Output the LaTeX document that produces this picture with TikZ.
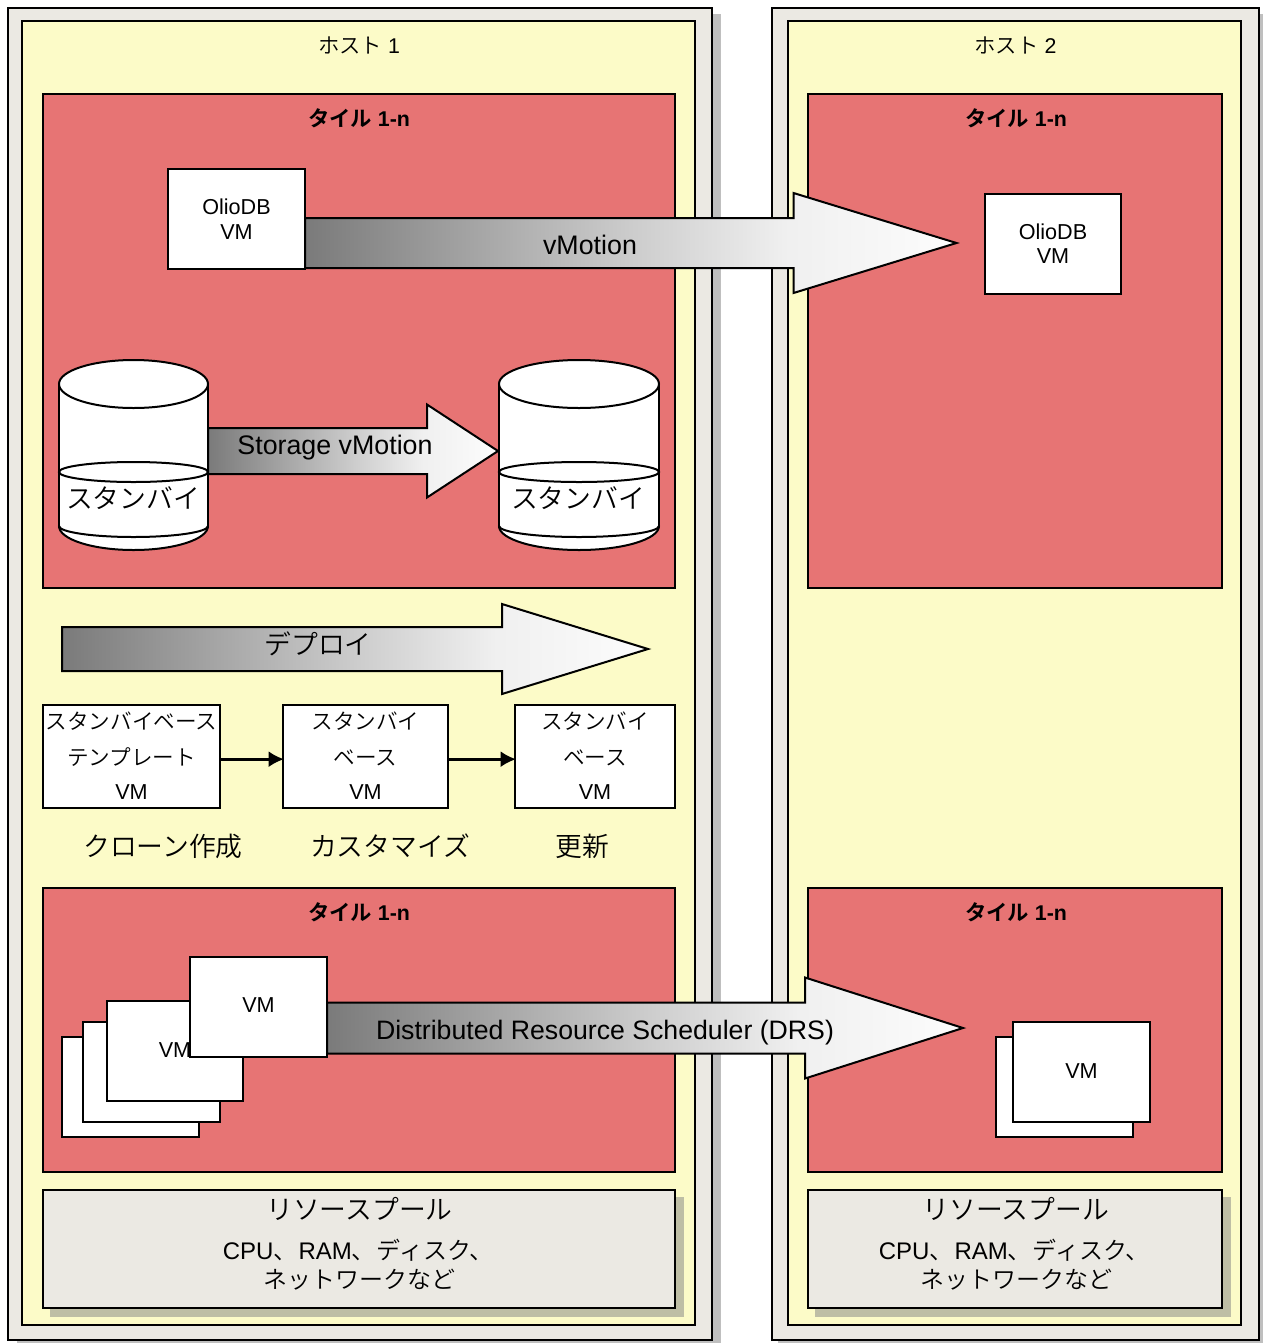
\documentclass[tikz,border=0pt]{standalone}
\usepackage{fontspec}
\usetikzlibrary{arrows.meta,calc}
\setmainfont{Liberation Sans}
\newfontfamily\cjk[UprightFont=* DemiLight,BoldFont=* Bold]{Noto Sans CJK JP}
\newcommand{\J}[1]{{\cjk #1}}
\newcommand{\fs}[1]{\fontsize{#1}{#1}\selectfont}
\newcommand{\up}[1]{\raisebox{1.5pt}{#1}}
\newcommand{\upp}[1]{\raisebox{3pt}{#1}}
\definecolor{frameC}{RGB}{235,233,227}
\definecolor{hostC}{RGB}{252,251,200}
\definecolor{tileC}{RGB}{231,116,116}
\definecolor{hostSh}{RGB}{191,191,191}
\definecolor{resSh}{RGB}{190,190,165}
\pgfdeclarehorizontalshading{blockfade}{100bp}{color(0bp)=(black!52); color(25bp)=(black!52); color(50bp)=(black!20); color(62bp)=(black!6); color(75bp)=(black!1); color(100bp)=(black!1)}
\tikzset{
  edge/.style={draw=black,line width=1.5pt},
  vmbox/.style={edge,fill=white,inner sep=0pt,align=center,minimum width=102.75pt,minimum height=75pt,font=\fontsize{16.2}{18.4}\selectfont},
  flowbox/.style={edge,fill=white,inner sep=0pt,align=center,minimum height=77.25pt,font=\fontsize{16.2}{25.7}\selectfont},
  hostlabel/.style={font=\fs{16},inner sep=0pt},
  tilelabel/.style={font=\fs{16}\bfseries,inner sep=0pt},
  biglabel/.style={font=\fs{20.1},inner sep=0pt},
  reslabel/.style={font=\fs{18},inner sep=0pt,align=center},
  flow/.style={draw=black,line width=2pt,shorten >=-1.5pt,-{Latex[length=11.5pt,width=12pt]}},
  blockarrow/.style={edge,shading=blockfade,shading angle=0},
}
% name of start, name of tip, half shaft, head length, half head (px)
\newcommand{\blockarrow}[5]{%
  \path[blockarrow] let \p1=(#1),\p2=(#2) in
    (\x1,\y1+#3*.75pt) -- (\x2-#4*.75pt,\y1+#3*.75pt) -- (\x2-#4*.75pt,\y1+#5*.75pt)
    -- (\x2,\y1) -- (\x2-#4*.75pt,\y1-#5*.75pt) -- (\x2-#4*.75pt,\y1-#3*.75pt)
    -- (\x1,\y1-#3*.75pt) -- cycle;}
\newcommand{\cyl}[5]{% left, right, name, text x, label
  \path[edge,fill=white] ({(#1+#2)/2},526) ellipse[x radius={(#2-#1)/2},y radius=24];
  \path[fill=white] (#1,384) rectangle (#2,526);
  \draw[edge] (#1,384) -- (#1,528) (#2,384) -- (#2,528);
  \path[edge,fill=white] ({(#1+#2)/2},384) ellipse[x radius={(#2-#1)/2},y radius=24];
  \path[edge] ({(#1+#2)/2},472) ellipse[x radius={(#2-#1)/2},y radius=10];
  \draw[edge] (#1,526) arc[start angle=180,end angle=0,x radius={(#2-#1)/2},y radius=11];
  \node[biglabel] (#3) at (#4,498) {\J{#5}};
}
\begin{document}
\begin{tikzpicture}[x=.75pt,y=-.75pt]
\useasboundingbox (0,0) rectangle (1263,1343);
% hosts
\fill[hostSh] (17,14) rectangle (721,1343);
\fill[hostSh] (778,14) rectangle (1263,1343);
\path[edge,fill=frameC] (8,8) rectangle (712,1340);
\path[edge,fill=frameC] (772,8) rectangle (1259,1340);
\path[edge,fill=hostC] (22,21) rectangle (695,1325);
\path[edge,fill=hostC] (788,21) rectangle (1241,1325);
\node[hostlabel] (h1) at (359,45) {\J{ホスト} 1};
\node[hostlabel] (h2) at (1015.5,45) {\J{ホスト} 2};
% tiles
\path[edge,fill=tileC] (43,94) rectangle (675,588);
\path[edge,fill=tileC] (808,94) rectangle (1222,588);
\path[edge,fill=tileC] (43,888) rectangle (675,1172);
\path[edge,fill=tileC] (808,888) rectangle (1222,1172);
\node[tilelabel] (t1) at (359,118.3) {\J{\bfseries タイル} 1-n};
\node[tilelabel] (t2) at (1016,118.3) {\J{\bfseries タイル} 1-n};
\node[tilelabel] (t3) at (359,912.3) {\J{\bfseries タイル} 1-n};
\node[tilelabel] (t4) at (1016,912.3) {\J{\bfseries タイル} 1-n};
% resource pools
\fill[resSh] (50,1197) rectangle (684,1317);
\fill[resSh] (815,1197) rectangle (1231,1317);
\path[edge,fill=frameC] (43,1190) rectangle (675,1308);
\path[edge,fill=frameC] (808,1190) rectangle (1222,1308);
\node[biglabel] (r1a) at (359.5,1209) {\J{リソースプール}};
\node[reslabel] (r1b) at (358,1250) {CPU\J{、}\hspace{.8pt}RAM\J{、}\hspace{.8pt}\J{ディスク、}};
\node[reslabel] (r1c) at (359,1280) {\J{ネットワークなど}};
\node[biglabel] (r2a) at (1016,1209) {\J{リソースプール}};
\node[reslabel] (r2b) at (1014,1250) {CPU\J{、}\hspace{.8pt}RAM\J{、}\hspace{.8pt}\J{ディスク、}};
\node[reslabel] (r2c) at (1016,1280) {\J{ネットワークなど}};
% anchors of the block arrows
\coordinate (vmS) at (305,243);  \coordinate (vmT) at (956.5,243);
\coordinate (stS) at (208,451);  \coordinate (stT) at (498,451);
\coordinate (dpS) at (62,649);   \coordinate (dpT) at (648,649);
\coordinate (drS) at (327,1028); \coordinate (drT) at (963,1028);
% vMotion
\blockarrow{vmS}{vmT}{25}{163}{50}
\node[vmbox] (olioA) at (236.5,219) {OlioDB\\VM};
\node[vmbox,minimum width=102pt] (olioB) at (1053,243.5) {OlioDB\\VM};
\node[font=\fs{20.1},inner sep=0pt] (vmL) at (590,245) {vMotion};
% storage vMotion
\cyl{59}{208}{cylA}{133}{スタンバイ}
\cyl{499}{659}{cylB}{578}{スタンバイ}
\blockarrow{stS}{stT}{23}{71}{46.5}
\node[font=\fs{20.1},inner sep=0pt] (stL) at (335,448) {Storage vMotion};
% deploy
\blockarrow{dpS}{dpT}{22}{146}{45}
\node[biglabel] (dpL) at (318,644) {\J{デプロイ}};
\node[flowbox,minimum width=132.75pt] (tmpl) at (131.5,756.5) {\upp{\J{スタンバイベース}}\\\up{\J{テンプレート}}\\\up{VM}};
\node[flowbox,minimum width=123.75pt] (baseA) at (365.5,756.5) {\upp{\J{スタンバイ}}\\\up{\J{ベース}}\\\up{VM}};
\node[flowbox,minimum width=120pt] (baseB) at (595,756.5) {\upp{\J{スタンバイ}}\\\up{\J{ベース}}\\\up{VM}};
\draw[flow] ([yshift=-2pt]tmpl.east) -- ([yshift=-2pt]baseA.west);
\draw[flow] ([yshift=-2pt]baseA.east) -- ([yshift=-2pt]baseB.west);
\node[biglabel] (lc) at (163,846) {\J{クローン作成}};
\node[biglabel] (lk) at (390,846) {\J{カスタマイズ}};
\node[biglabel] (lu) at (582,846) {\J{更新}};
% DRS
\blockarrow{drS}{drT}{25.5}{158}{50.5}
\node[vmbox] (s1) at (130.5,1087) {};
\node[vmbox] (s2) at (151.5,1072) {};
\node[vmbox,minimum width=102pt] (s3) at (175,1051) {\up{VM}};
\node[vmbox] (s4) at (258.5,1006.5) {\up{VM}};
\node[vmbox] (d1) at (1064.5,1087) {};
\node[vmbox] (d2) at (1081.5,1072) {\up{VM}};
\node[font=\fs{20},inner sep=0pt] (drL) at (605,1033) {Distributed Resource Scheduler (DRS)};
\end{tikzpicture}
\end{document}
